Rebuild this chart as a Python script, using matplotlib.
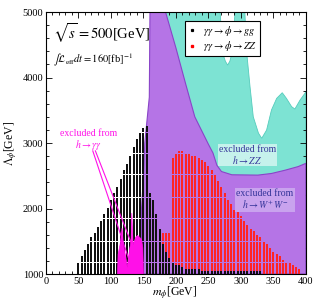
import numpy as np
import matplotlib.pyplot as plt
from matplotlib.lines import Line2D

plt.rcParams['font.family'] = 'serif'
plt.rcParams['font.serif'] = ['Liberation Serif', 'DejaVu Serif']
plt.rcParams['mathtext.fontset'] = 'stix'

# gamma gamma -> phi -> gg : reach (upper Lambda) per mass point
m_gg = list(range(50, 335, 5))
lam_gg = [1190, 1275, 1370, 1460, 1550, 1640, 1730, 1820, 1920, 2020,
          2130, 2230, 2340, 2450, 2570, 2690, 2810, 2940, 3060, 3160,
          3230, 3250, 2240, 2130, 1900, 1700, 1480, 1350, 1250, 1170,
          1150, 1130, 1120, 1080, 1080, 1070, 1070, 1070, 1060, 1060,
          1060, 1060, 1060, 1060, 1050, 1050, 1050, 1050, 1050, 1050,
          1050, 1050, 1040, 1040, 1040, 1040, 1040]

# gamma gamma -> phi -> ZZ
m_zz = list(range(180, 395, 5))
lam_zz = [1620, 1620, 1640, 2780, 2830, 2860, 2860, 2850, 2840, 2820,
          2800, 2770, 2740, 2710, 2640, 2580, 2520, 2420, 2330, 2230,
          2140, 2060, 1990, 1930, 1870, 1810, 1750, 1700, 1650, 1600,
          1550, 1500, 1450, 1400, 1350, 1300, 1260, 1220, 1190, 1170,
          1150, 1110, 1080]

# h -> WW excluded region: left edge (top to bottom)
ww_left_m = [160, 159, 155, 152, 150, 147, 147]
ww_left_l = [5000, 3700, 3300, 3000, 2500, 2000, 1000]
# boundary between WW and ZZ regions (top to right)
ww_top_m = [184, 200, 215, 229, 240, 250, 257, 263, 270, 286, 326, 347, 368, 388, 400]
ww_top_l = [5000, 4450, 3900, 3400, 3180, 2980, 2847, 2660, 2565, 2515, 2510, 2535, 2585, 2640, 2690]

# h -> ZZ excluded region: upper edge
zz_top_m = [184, 268, 272, 276, 279.5, 283, 286, 291, 306, 309, 314, 319, 327, 332,
            339.5, 347, 355, 363.6, 370, 378, 383, 391, 398.5, 400]
zz_top_l = [5000, 5000, 4370, 4250, 4190, 4250, 4370, 5000, 5000, 4370, 3860, 3400, 3150, 3072,
            3198, 3504, 3682, 3768, 3682, 3555, 3519, 3656, 3759, 3790]

# h -> gamma gamma excluded region
gg_m = [110, 111, 114, 117, 119, 121, 123, 125, 127, 129, 131, 132, 134, 136, 138, 141, 144, 147, 149, 150]
gg_l = [1000, 1300, 1450, 1700, 1450, 1350, 1250, 1100, 1250, 1400, 1500, 1930, 1450, 1500, 1560, 1590, 1560, 1530, 1400, 1000]

fig = plt.figure(figsize=(3.21, 3.01), dpi=100)
ax = fig.add_axes([0.1433, 0.0897, 0.8097, 0.8703])

cyan = '#7de3d3'
purple = '#b574e6'
magenta = '#ff10e8'

# ZZ region (cyan), purple drawn over it
ax.fill(zz_top_m + [400, 184], zz_top_l + [1000, 1000],
        color=cyan, lw=0.6, ec='#55ccbc', zorder=1)

ax.fill(ww_left_m + [400] + ww_top_m[::-1], ww_left_l + [1000] + ww_top_l[::-1],
        color=purple, lw=0.8, ec='#8a44c8', zorder=2)

# scan points
step = 32


def grid_points(ms, tops):
    xs, ys = [], []
    for m, lm in zip(ms, tops):
        ll = np.arange(1000, lm, step)
        xs += [m] * len(ll)
        ys += list(ll)
    return xs, ys


xs, ys = grid_points(m_zz, lam_zz)
ax.scatter(xs, ys, s=0.9, marker='s', color='#ff2424', lw=0, zorder=3)

xs, ys = grid_points(m_gg, lam_gg)
ax.scatter(xs, ys, s=0.9, marker='s', color='#111111', lw=0, zorder=4)

# h -> gamma gamma
ax.fill(gg_m, gg_l, color=magenta, lw=0.5, ec=magenta, zorder=5)
ax.plot([72, 130], [2880, 1150], color=magenta, lw=0.8, zorder=5)
ax.plot([76, 140], [2880, 1250], color=magenta, lw=0.8, zorder=5)

ax.text(66, 3045, 'excluded from\n' + r'$h\rightarrow\gamma\gamma$', color=magenta,
        fontsize=7, ha='center', va='center', linespacing=1.0, zorder=6)
ax.text(310, 2817, 'excluded from\n' + r'$h\rightarrow ZZ$', color='#333399',
        fontsize=7, ha='center', va='center', linespacing=1.0, zorder=6,
        bbox=dict(boxstyle='square,pad=0.1', fc='#c6f2ec', ec='none'))
ax.text(337, 2130, 'excluded from\n' + r'$h\rightarrow W^{+}W^{-}$', color='#333399',
        fontsize=7, ha='center', va='center', linespacing=1.0, zorder=6,
        bbox=dict(boxstyle='square,pad=0.1', fc='#c9a3ee', ec='none'))

ax.text(11, 4680, r'$\sqrt{s}=500$[GeV]', fontsize=10.5, va='center', zorder=6)
ax.text(11, 4270, r'$\int\mathcal{L}_{\rm eff}dt=160$[fb]$^{-1}$', fontsize=7.5,
        va='center', zorder=6)

handles = [Line2D([], [], ls='', marker='s', ms=1.3, color='black'),
           Line2D([], [], ls='', marker='s', ms=1.8, color='red')]
leg = ax.legend(handles, [r'$\gamma\gamma\rightarrow\phi\rightarrow gg$',
                          r'$\gamma\gamma\rightarrow\phi\rightarrow ZZ$'],
                loc='upper left', bbox_to_anchor=(0.535, 0.967), borderaxespad=0,
                fontsize=7.5, fancybox=False, framealpha=1, edgecolor='black',
                handlelength=0.8, handletextpad=0.6, borderpad=0.3, labelspacing=0.15)
leg.get_frame().set_linewidth(0.8)
leg.set_zorder(7)

ax.set_xlim(0, 400)
ax.set_ylim(1000, 5000)
ax.set_xticks(range(0, 401, 50))
ax.set_xticks(range(0, 401, 10), minor=True)
ax.set_yticks(range(1000, 5001, 1000))
ax.set_yticks(range(1000, 5001, 200), minor=True)
ax.tick_params(which='both', direction='in', top=True, right=True, labelsize=7.5, width=0.6)
ax.tick_params(which='major', length=4, pad=2)
ax.tick_params(which='minor', length=2)
for s in ax.spines.values():
    s.set_linewidth(0.8)
    s.set_zorder(8)
ax.set_ylabel(r'$\Lambda_\phi$[GeV]', fontsize=8.5, labelpad=2)
fig.text(175 / 321, 1 - 293 / 301, r'$m_\phi$[GeV]', fontsize=8.5, ha='center', va='center')

fig.savefig('out.png', dpi=100)
